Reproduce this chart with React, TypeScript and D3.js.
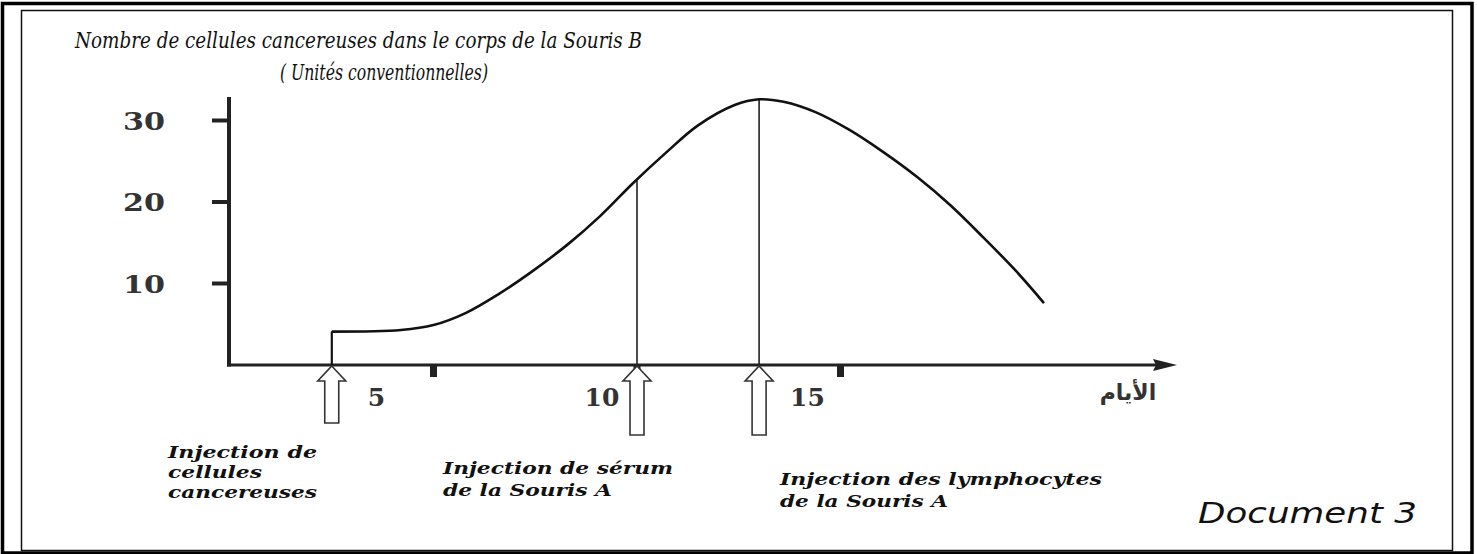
import React from "react";
import * as d3 from "d3";

// ---- data ----
const curveDays = [2.5, 4.2, 5.0, 5.8, 6.6, 7.4, 8.3, 9.1, 9.9, 10.7, 11.5, 12.4, 13.0, 13.6, 14.4, 15.2, 16.0, 16.9, 17.7, 18.5, 19.3, 20.0];
const curveValues = [4.1, 4.3, 4.9, 6.4, 8.7, 11.4, 14.8, 18.3, 22.3, 26.0, 29.4, 31.9, 32.6, 32.3, 31.0, 28.9, 26.3, 23.0, 19.6, 15.7, 11.6, 7.6];
const injectionDays = [2.5, 10, 13];
const injectionLevels = [4.1, 22.6, 32.6];
const yTicks = [10, 20, 30];
const xTicks = [5, 10, 15];
const titleLines = ["Nombre de cellules cancereuses dans le corps de la Souris B", "( Unités conventionnelles)"];
const xAxisLabel = "الأيام";
const injectionLabels = [
  ["Injection de", "cellules", "cancereuses"],
  ["Injection de sérum", "de la Souris A"],
  ["Injection des lymphocytes", "de la Souris A"],
];
const documentLabel = "Document 3";

// ---- layout (not data) ----
const W = 1477;
const H = 554;
const xTickLabelDx = [-57, -35, -33];
const arrowLengths = [57, 69, 69];
const labelBlocks = [
  { x: 168, y: 458, dy: 20, widths: [149, 94, 149] },
  { x: 443, y: 474, dy: 22, widths: [230, 169] },
  { x: 780, y: 485, dy: 22, widths: [322, 168] },
];

export default function App() {
  const x = d3.scaleLinear().domain([0, 20]).range([230, 1044]);
  const y = d3.scaleLinear().domain([0, 30]).range([365, 120.5]);
  const pts = curveDays.map((d, i) => [d, curveValues[i]] as [number, number]);
  const line = d3
    .line<[number, number]>()
    .x((d) => x(d[0]))
    .y((d) => y(d[1]))
    .curve(d3.curveCatmullRom.alpha(0.5));
  const startPath = `M${x(curveDays[0])},${y(0)}L${x(curveDays[0])},${y(curveValues[0])}`;

  const axisY0 = y(0);
  const axisX0 = x(0) - 1;

  const arrowPath = (cx: number, len: number) => {
    const tip = axisY0 + 1;
    const headB = tip + 15;
    const hw = 14;
    const sw = 7;
    const bot = tip + len;
    return `M${cx},${tip}L${cx + hw},${headB}L${cx + sw},${headB}L${cx + sw},${bot}L${cx - sw},${bot}L${cx - sw},${headB}L${cx - hw},${headB}Z`;
  };

  return (
    <svg width={W} height={H} style={{ position: "absolute", left: 0, top: 0, background: "#fff" }}>
      <rect x={0} y={0} width={W} height={H} fill="#fff" />
      {/* frames */}
      <rect x={2.5} y={3.5} width={1469.5} height={549.5} fill="none" stroke="#000" strokeWidth={3.5} />
      <rect x={21.5} y={10.5} width={1431} height={540} fill="none" stroke="#111" strokeWidth={1.5} />

      {/* title */}
      <text x={75} y={48} fontFamily="DejaVu Serif" fontStyle="italic" fontSize={22} fill="#111" textLength={567} lengthAdjust="spacingAndGlyphs">
        {titleLines[0]}
      </text>
      <text x={280} y={80} fontFamily="DejaVu Serif" fontStyle="italic" fontSize={22} fill="#111" textLength={208} lengthAdjust="spacingAndGlyphs">
        {titleLines[1]}
      </text>

      {/* y axis */}
      <line x1={axisX0} y1={97} x2={axisX0} y2={axisY0 + 1.5} stroke="#222" strokeWidth={4} />
      {yTicks.map((t) => (
        <g key={t}>
          <line x1={212} x2={axisX0} y1={y(t)} y2={y(t)} stroke="#222" strokeWidth={4} />
          <text x={165} y={y(t)} dy="0.36em" textAnchor="end" fontFamily="DejaVu Serif" fontWeight="bold" fontSize={25} fill="#333" textLength={42} lengthAdjust="spacingAndGlyphs">
            {t}
          </text>
        </g>
      ))}

      {/* x axis */}
      <line x1={axisX0 - 2} y1={axisY0} x2={1160} y2={axisY0} stroke="#222" strokeWidth={3} />
      <path d={`M1177,${axisY0}L1153,${axisY0 - 6}L1156,${axisY0}L1153,${axisY0 + 6}Z`} fill="#222" />
      {xTicks.map((t, i) => (
        <g key={t}>
          <rect x={x(t) - 3.5} y={axisY0 + 1} width={7} height={11} fill="#222" />
          <text x={x(t) + xTickLabelDx[i]} y={406} textAnchor="middle" fontFamily="DejaVu Serif" fontWeight="bold" fontSize={25} fill="#333">
            {t}
          </text>
        </g>
      ))}
      <text x={1128} y={400} textAnchor="middle" fontFamily="DejaVu Sans" fontWeight="bold" fontSize={22} fill="#333" direction="rtl">
        {xAxisLabel}
      </text>

      {/* injection vertical lines */}
      {injectionDays.map((d, i) => (
        <line key={d} x1={x(d)} x2={x(d)} y1={axisY0} y2={y(injectionLevels[i])} stroke="#222" strokeWidth={1.6} />
      ))}

      {/* curve */}
      <path d={startPath} fill="none" stroke="#111" strokeWidth={2} />
      <path d={line(pts) || ""} fill="none" stroke="#111" strokeWidth={2.6} strokeLinejoin="round" />

      {/* arrows */}
      {injectionDays.map((d, i) => (
        <path key={d} d={arrowPath(x(d), arrowLengths[i])} fill="#fff" stroke="#333" strokeWidth={1.6} />
      ))}

      {/* injection labels */}
      {injectionLabels.map((lines, bi) =>
        lines.map((s, li) => (
          <text
            key={bi + "-" + li}
            x={labelBlocks[bi].x}
            y={labelBlocks[bi].y + li * labelBlocks[bi].dy}
            fontFamily="DejaVu Serif"
            fontStyle="italic"
            fontWeight="bold"
            fontSize={17}
            fill="#111"
            textLength={labelBlocks[bi].widths[li]}
            lengthAdjust="spacingAndGlyphs"
          >
            {s}
          </text>
        ))
      )}

      {/* document label */}
      <text x={1198} y={523} fontFamily="DejaVu Sans" fontStyle="italic" fontSize={28} fill="#111" textLength={219} lengthAdjust="spacingAndGlyphs">
        {documentLabel}
      </text>
    </svg>
  );
}
